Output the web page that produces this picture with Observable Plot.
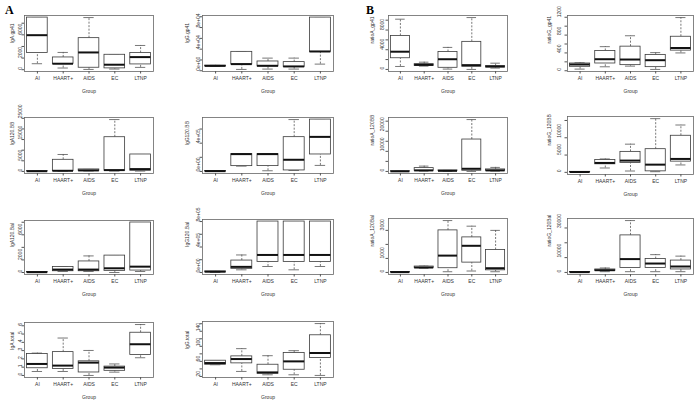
<!DOCTYPE html>
<html><head><meta charset="utf-8">
<script src="https://cdn.jsdelivr.net/npm/d3@7"></script>
<script src="https://cdn.jsdelivr.net/npm/@observablehq/plot@0.6"></script>
<style>
body{margin:0;background:#fff;}
#wrap{position:relative;width:697px;height:403px;background:#fff;overflow:hidden;}
.pl{position:absolute;}
.letter{position:absolute;font-family:"Liberation Serif",serif;font-weight:bold;font-size:12px;}
</style></head>
<body><div id="wrap"><div class="letter" style="left:5px;top:3px">A</div><div class="letter" style="left:366px;top:3px">B</div></div>
<script>
const groups = ["AI","HAART+","AIDS","EC","LTNP"];
// five-number summaries per group: [min, q1, median, q3, max]
const igaGp41 = [[1030,2860,5940,8970,8970],[290,970,1030,2110,2970],[50,340,2970,5430,8970],[110,230,860,2570,2570],[400,910,2170,2860,4170]];
const iggGp41 = [[8000,8500,9000,9500,10000],[2460,11700,12300,35000,35000],[3100,8000,9200,17200,23400],[3100,6800,8000,16000,23400],[12300,35000,35700,98500,98500]];
const iga120BB = [[0,50,100,150,200],[150,150,300,5470,7970],[210,300,470,940,940],[150,300,625,16100,24400],[150,300,1100,7970,7970]];
const igg120BB = [[0,2000,4000,5000,6000],[75000,75000,245000,245000,245000],[9400,75300,245000,245000,245000],[14000,14000,165000,485000,734000],[85000,240000,489000,734000,734000]];
const iga120Bal = [[0,20,50,80,100],[155,200,465,880,880],[155,200,465,1760,2640],[0,260,670,2690,2690],[155,310,930,7960,7960]];
const igg120Bal = [[0,8000,12000,16000,18000],[41500,57000,88000,187000,275000],[93500,166000,275000,800000,800000],[41500,166000,275000,800000,800000],[93500,166000,275000,800000,800000]];
const igaTotal = [[0.48,0.87,1.39,2.58,2.7],[0.48,0.79,1.19,2.82,4.52],[0,0.36,1.55,1.71,3.02],[0.4,0.56,0.95,1.07,1.39],[2.14,2.46,3.77,5.16,6.15]];
const iggTotal = [[51,51,55.6,61.8,61.8],[33.3,54.7,66.2,73.3,93.8],[24.4,27.1,30.7,51.1,75.1],[24.4,37.8,60,82.2,88.4],[22.7,68.9,82.2,129.3,160.4]];
const ratioAgp41 = [[600,2270,3600,6800,10200],[670,730,930,1070,1470],[70,330,2070,3530,4470],[0,530,870,5600,10530],[270,400,600,670,1270]];
const ratioGgp41 = [[37,89,141,163,178],[89,163,259,444,541],[104,126,252,541,785],[30,81,237,356,407],[400,452,511,763,1193]];
const ratioA120BB = [[0,20,50,80,100],[165,330,500,1650,2640],[150,200,300,500,500],[0,330,1320,15870,25800],[165,330,500,1000,2000]];
const ratioG120BB = [[0,50,100,150,200],[1260,2330,2720,3590,3880],[390,2720,3400,5920,8150],[190,290,2230,6700,15530],[2140,3100,3880,10580,13690]];
const ratioA120Bal = [[0,10,20,30,40],[300,320,350,420,450],[50,300,1200,3000,3700],[100,700,1900,2500,3300],[50,150,300,1600,3000]];
const ratioG120Bal = [[0,100,200,300,400],[500,1000,1500,2000,3000],[500,3000,9000,25000,35000],[500,3000,6000,9000,12000],[500,2000,4000,8000,11000]];

// y tick values and their printed labels ("" = tick without label)
const tkA1 = [0,2000,4000,6000,8000], lbA1 = ["0","2000","","6000",""];
const tkA2 = [0,20000,40000,60000,80000,100000], lbA2 = ["0e+00","","4e+04","","8e+04",""];
const tkA3 = [0,5000,10000,15000,20000,25000], lbA3 = ["0","5000","","15000","","25000"];
const tkA4 = [0,200000,400000,600000], lbA4 = ["0e+00","","4e+05",""];
const tkA5 = [0,2000,4000,6000,8000], lbA5 = ["0","2000","","6000",""];
const tkA6 = [0,200000,400000,600000,800000], lbA6 = ["0e+00","","4e+05","","8e+05"];
const tkA7 = [0,1,2,3,4,5,6], lbA7 = ["0","1","2","3","4","5","6"];
const tkA8 = [20,40,60,80,100,120,140,160], lbA8 = ["20","","60","","100","","140",""];
const tkB1 = [0,2000,4000,6000,8000,10000], lbB1 = ["0","","4000","","8000",""];
const tkB2 = [0,200,400,600,800,1000,1200], lbB2 = ["0","","400","","800","","1200"];
const tkB3 = [0,5000,10000,15000,20000,25000], lbB3 = ["0","","10000","","20000",""];
const tkB4 = [0,5000,10000,15000], lbB4 = ["0","5000","10000",""];
const tkB5 = [0,1000,2000,3000], lbB5 = ["0","1000","","3000"];
const tkB6 = [0,10000,20000,30000], lbB6 = ["0","10000","","30000"];

const panels = [
  {label:"IgA.gp41", stats:igaGp41, ticks:tkA1, labels:lbA1, frame:[24,15,153,71], tdx:-4, ldx:-12},
  {label:"IgG.gp41", stats:iggGp41, ticks:tkA2, labels:lbA2, frame:[202,15,333,71], tdx:-4.5, ldx:-15},
  {label:"IgA120.BB", stats:iga120BB, ticks:tkA3, labels:lbA3, frame:[24,117,153,173], tdx:-4, ldx:-12},
  {label:"IgG120.BB", stats:igg120BB, ticks:tkA4, labels:lbA4, frame:[202,117,333,173], tdx:-4.5, ldx:-15},
  {label:"IgA120.Bal", stats:iga120Bal, ticks:tkA5, labels:lbA5, frame:[24,220,153,274], tdx:-4, ldx:-12},
  {label:"IgG120.Bal", stats:igg120Bal, ticks:tkA6, labels:lbA6, frame:[202,219,333,274], tdx:-4.5, ldx:-15},
  {label:"IgA.total", stats:igaTotal, ticks:tkA7, labels:lbA7, frame:[24,322,153,377], tdx:-4, ldx:-12},
  {label:"IgG.total", stats:iggTotal, ticks:tkA8, labels:lbA8, frame:[202,321,333,377], tdx:-4.5, ldx:-15},
  {label:"ratioA_gp41", stats:ratioAgp41, ticks:tkB1, labels:lbB1, frame:[388,15,507,71], tdx:-6, ldx:-16},
  {label:"ratioG_gp41", stats:ratioGgp41, ticks:tkB2, labels:lbB2, frame:[567,15,693,71], tdx:-8, ldx:-18},
  {label:"ratioA_120BB", stats:ratioA120BB, ticks:tkB3, labels:lbB3, frame:[388,117,507,173], tdx:-6, ldx:-16},
  {label:"ratioG_120BB", stats:ratioG120BB, ticks:tkB4, labels:lbB4, frame:[567,116,693,174], tdx:-8, ldx:-18},
  {label:"ratioA_120Bal", stats:ratioA120Bal, ticks:tkB5, labels:lbB5, frame:[388,218,507,274], tdx:-6, ldx:-16},
  {label:"ratioG_120Bal", stats:ratioG120Bal, ticks:tkB6, labels:lbB6, frame:[567,218,693,274], tdx:-8, ldx:-18}
];

const LINE = "#3a3a3a";
function makePanel(p) {
  const rows = p.stats.map((s, i) => ({i: i + 1, min: s[0], q1: s[1], med: s[2], q3: s[3], max: s[4]}));
  const lo = d3.min(p.stats, s => s[0]), hi = d3.max(p.stats, s => s[4]), r = hi - lo;
  const [fx0, fy0, fx1, fy1] = p.frame;
  const mL = 34, mR = 4, mT = 6, mB = 28;
  const chart = Plot.plot({
    width: fx1 - fx0 + mL + mR, height: fy1 - fy0 + mT + mB,
    marginLeft: mL, marginRight: mR, marginTop: mT, marginBottom: mB,
    x: {domain: [0.5, 5.5], axis: null},
    y: {domain: [lo - 0.04 * r, hi + 0.04 * r], axis: null},
    style: {fontFamily: "'Liberation Sans', Arial, sans-serif", fontSize: "5px", background: "transparent", overflow: "visible", color: "#333"},
    marks: [
      Plot.ruleX(rows, {x: "i", y1: "q3", y2: "max", stroke: "#555", strokeWidth: 0.8, strokeDasharray: "2,1.5"}),
      Plot.ruleX(rows, {x: "i", y1: "min", y2: "q1", stroke: "#555", strokeWidth: 0.8, strokeDasharray: "2,1.5"}),
      Plot.ruleY(rows, {y: "max", x1: d => d.i - 0.2, x2: d => d.i + 0.2, stroke: "#555", strokeWidth: 0.8}),
      Plot.ruleY(rows, {y: "min", x1: d => d.i - 0.2, x2: d => d.i + 0.2, stroke: "#555", strokeWidth: 0.8}),
      Plot.rect(rows, {x1: d => d.i - 0.4, x2: d => d.i + 0.4, y1: "q1", y2: "q3", fill: "white", stroke: LINE, strokeWidth: 0.8}),
      Plot.ruleY(rows, {y: "med", x1: d => d.i - 0.4, x2: d => d.i + 0.4, stroke: "#111", strokeWidth: 2}),
      Plot.frame({stroke: "#666", strokeWidth: 0.8}),
      Plot.axisY({ticks: p.ticks, tickFormat: () => "", tickSize: 2.5, stroke: "#555", label: null}),
      Plot.text(p.ticks, {y: d => d, text: (d, i) => p.labels[i], frameAnchor: "left", dx: p.tdx, rotate: -90, fontSize: 5, fill: "#333"}),
      Plot.axisX({ticks: [1, 2, 3, 4, 5], tickFormat: i => groups[i - 1], tickSize: 2.5, tickPadding: 2, fontSize: 5, stroke: "#555", label: null}),
      Plot.text(["Group"], {text: d => d, frameAnchor: "bottom", dy: 21, fontSize: 5, fill: "#333"}),
      Plot.text([p.label], {text: d => d, frameAnchor: "left", dx: p.ldx, rotate: -90, fontSize: 5, fill: "#333"})
    ]
  });
  const div = document.createElement("div");
  div.className = "pl";
  div.style.left = (fx0 - mL) + "px";
  div.style.top = (fy0 - mT) + "px";
  div.appendChild(chart);
  document.getElementById("wrap").appendChild(div);
}
panels.forEach(makePanel);
</script></body></html>
